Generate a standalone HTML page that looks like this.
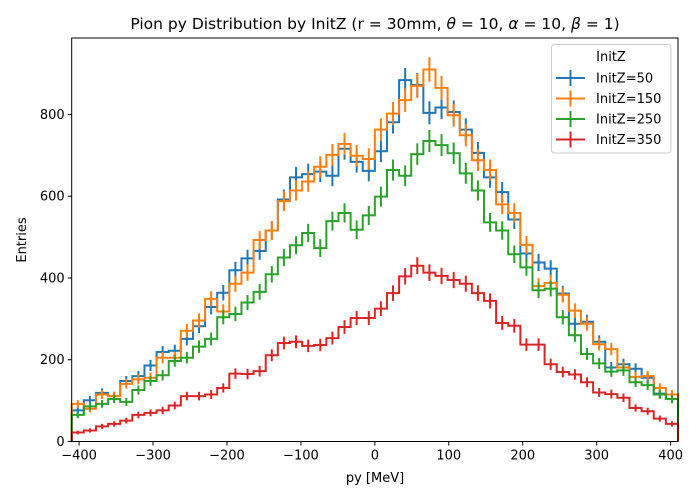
<!DOCTYPE html>
<html><head><meta charset="utf-8"><style>
body{margin:0;background:#fff;}
svg{display:block;font-family:"DejaVu Sans","Liberation Sans",sans-serif;}
</style></head><body>
<svg id="chart" width="700" height="500" viewBox="0 0 700 500">
<rect width="700" height="500" fill="#fff"/>
<text x="375" y="29" font-size="15.5" text-anchor="middle">Pion py Distribution by InitZ (r = 30mm, <tspan font-style="italic">θ</tspan> = 10, <tspan font-style="italic">α</tspan> = 10, <tspan font-style="italic">β</tspan> = 1)</text>
<g id="plot"></g>
<g id="axes"></g>
<text x="375" y="482" font-size="13" text-anchor="middle">py [MeV]</text>
<text transform="translate(26,240) rotate(-90)" font-size="13" text-anchor="middle">Entries</text>
<g>
<rect x="551.5" y="44.5" width="119.5" height="108.5" rx="3" fill="#fff" fill-opacity="0.8" stroke="#ccc"/>
<text x="611" y="61" font-size="13" text-anchor="middle">InitZ</text>
<g id="legend-items"></g>
</g>
</svg>
<script>
const binLo = -410, binHi = 410, nBins = 50;
const seriesNames = ["InitZ=50","InitZ=150","InitZ=250","InitZ=350"];
const seriesColors = ["#1f77b4","#ff7f0e","#2ca02c","#d62728"];
const blue = [76,101,119,111,148,160,186,219,222,251,282,329,364,419,448,466,516,592,646,654,660,650,716,684,662,710,781,884,872,804,817,806,763,706,646,610,543,460,438,423,362,288,293,244,181,189,178,156,117,104];
const orange = [92,80,115,111,141,152,156,205,205,271,296,349,318,386,413,493,516,588,614,636,672,701,728,699,691,763,802,835,870,910,865,798,749,688,664,580,559,481,380,388,359,320,288,238,226,181,158,160,131,115];
const green = [65,86,92,104,97,126,148,162,197,205,232,251,304,312,340,366,409,450,480,510,473,539,559,518,553,599,664,650,703,735,725,705,656,614,536,516,458,426,370,374,304,260,214,191,171,174,145,138,115,104];
const red = [22,27,37,43,51,65,70,76,88,111,111,115,131,166,165,172,211,241,244,234,236,253,280,302,302,325,363,404,430,413,405,395,386,363,344,290,283,237,237,189,170,164,145,120,116,107,82,74,56,43];
const xTicks = [-400,-300,-200,-100,0,100,200,300,400];
const yTicks = [0,200,400,600,800];

const L=71.7,R=678,T=38,B=441.5;
const yMax=987;
const X=v=>L+(v-binLo)/(binHi-binLo)*(R-L);
const Y=v=>B-v/yMax*(B-T);
const NS="http://www.w3.org/2000/svg";
function mk(tag,attrs,parent){const e=document.createElementNS(NS,tag);for(const k in attrs)e.setAttribute(k,attrs[k]);parent.appendChild(e);return e;}
const plot=document.getElementById('plot'), axes=document.getElementById('axes');
const bw=(binHi-binLo)/nBins;
const allSeries=[blue,orange,green,red];
allSeries.forEach((vals,si)=>{
  const g=mk('g',{},plot);
  
  
  let d='M'+X(binLo)+','+Y(0);
  vals.forEach((v,i)=>{d+=' L'+X(binLo+i*bw)+','+Y(v)+' L'+X(binLo+(i+1)*bw)+','+Y(v);});
  d+=' L'+X(binHi)+','+Y(0);
  const p=mk('path',{d:d,fill:'none',stroke:seriesColors[si],'stroke-width':2},g);
  
  
  vals.forEach((v,i)=>{
    const cx=X(binLo+(i+0.5)*bw), e=Math.sqrt(v);
    const ln=mk('line',{x1:cx,x2:cx,y1:Y(v+e),y2:Y(Math.max(0,v-e)),stroke:seriesColors[si],'stroke-width':2},g);
    
    
  });
});
mk('rect',{x:L,y:T,width:R-L,height:B-T,fill:'none',stroke:'#000','stroke-width':1},axes);
xTicks.forEach(t=>{
  const x=X(t);
  mk('line',{x1:x,x2:x,y1:B,y2:B+4,stroke:'#000'},axes);
  const tx=mk('text',{x:x,y:B+18,'font-size':13,'text-anchor':'middle'},axes);
  tx.textContent=(t<0?'−':'')+Math.abs(t);
  
  
});
yTicks.forEach(t=>{
  const y=Y(t);
  mk('line',{x1:L-4,x2:L,y1:y,y2:y,stroke:'#000'},axes);
  const tx=mk('text',{x:L-7,y:y+4.5,'font-size':13,'text-anchor':'end'},axes);
  tx.textContent=t;
  
  
});
const li=document.getElementById('legend-items');
seriesNames.forEach((n,i)=>{
  const y=78+i*20.5;
  const g=mk('g',{},li);
  
  
  mk('line',{x1:556,x2:585,y1:y,y2:y,stroke:seriesColors[i],'stroke-width':2},g);
  mk('line',{x1:570.5,x2:570.5,y1:y-8,y2:y+8,stroke:seriesColors[i],'stroke-width':2},g);
  const t=mk('text',{x:596,y:y+4.5,'font-size':13},g);
  t.textContent=n;
});
</script>
</body></html>
